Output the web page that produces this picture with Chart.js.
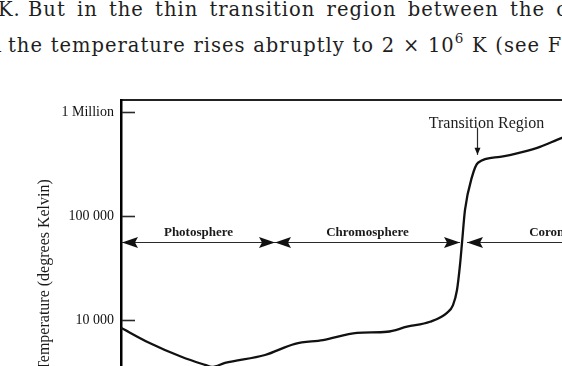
<!DOCTYPE html>
<html>
<head>
<meta charset="utf-8">
<script src="https://cdn.jsdelivr.net/npm/chart.js@4"></script>
<style>
  html, body { margin: 0; padding: 0; background: #fff; overflow: hidden; width: 562px; height: 366px; }
  .txt { position: absolute; white-space: nowrap; font-family: "DejaVu Serif", serif; font-size: 19.5px; line-height: 20px; letter-spacing: 1px; color: #1e1e1e; }
  .txt sup { font-size: 13.5px; line-height: 0; vertical-align: 9px; }
  #l1a { left: -2px; top: 0; }
  #l1b { left: 28px; top: 0; word-spacing: 4px; }
  #l2a { left: -10px; top: 36px; }
  #l2b { left: 8px; top: 36px; word-spacing: 0.5px; }
  #fig { position: absolute; left: 0; top: 0; }
</style>
</head>
<body>
<div class="txt" id="l1a">K.</div>
<div class="txt" id="l1b">But in the thin transition region between the chromosphere</div>
<div class="txt" id="l2a">a</div>
<div class="txt" id="l2b">the temperature rises abruptly to 2 &times; 10<sup>6</sup> K (see Figure</div>
<canvas id="fig" width="600" height="450"></canvas>
<script>
// temperature profile (x = position across the plot, arbitrary units)
const heights = [0, 27, 61, 84, 91, 104, 144, 174, 202, 236, 266, 286, 309, 326, 332, 336, 339, 341, 344, 351, 357, 379, 402, 419, 441, 479];
const temps = [8400, 6100, 4400, 3700, 3530, 3860, 4600, 5900, 6400, 7500, 7700, 8600, 9600, 11700, 13900, 19400, 33800, 55000, 114000, 237000, 324000, 369000, 412000, 460000, 562000, 730000];

const tickValues = [1e4, 1e5, 1e6];
const tickLabels = ['10 000', '100 000', '1 Million'];
const yMin = 562;
const yMax = 1.3e6;

const regions = ['Photosphere', 'Chromosphere', 'Corona'];
const regionStart = [1, 154, 346];
const regionEnd = [154, 339, 512];
const bandLevel = 56000;

const transitionLabel = 'Transition Region';
const transitionX = 356;
const transitionTip = 386000;

function arrowHead(ctx, x, y, dir) {
  ctx.beginPath();
  ctx.moveTo(x, y);
  ctx.lineTo(x + dir * 16, y - 5.5);
  ctx.lineTo(x + dir * 13, y);
  ctx.lineTo(x + dir * 16, y + 5.5);
  ctx.closePath();
  ctx.fill();
}

const annotations = {
  id: 'annotations',
  afterDatasetsDraw(chart) {
    const { ctx, chartArea: a, scales: { x, y } } = chart;
    ctx.save();
    ctx.strokeStyle = '#2a2a2a';
    ctx.fillStyle = '#111';

    // short tick marks inside the frame
    ctx.lineWidth = 1.6;
    tickValues.forEach(v => {
      const py = Math.round(y.getPixelForValue(v)) + 0.5;
      ctx.beginPath();
      ctx.moveTo(a.left + 1, py);
      ctx.lineTo(a.left + 14, py);
      ctx.stroke();
    });

    // region arrows
    const ly = Math.round(y.getPixelForValue(bandLevel)) + 0.5;
    ctx.font = 'bold 13px "Liberation Serif"';
    ctx.textAlign = 'center';
    ctx.textBaseline = 'alphabetic';
    regions.forEach((name, i) => {
      const x0 = x.getPixelForValue(regionStart[i]);
      const x1 = x.getPixelForValue(regionEnd[i]);
      ctx.lineWidth = 1.2;
      ctx.beginPath();
      ctx.moveTo(x0, ly);
      ctx.lineTo(x1, ly);
      ctx.stroke();
      arrowHead(ctx, x0, ly, 1);
      arrowHead(ctx, x1, ly, -1);
      ctx.fillStyle = '#1a1a1a';
      ctx.fillText(name, (x0 + x1) / 2, ly - 7);
      ctx.fillStyle = '#111';
    });

    // transition region pointer
    const tx = Math.round(x.getPixelForValue(transitionX)) + 0.5;
    const ty = y.getPixelForValue(transitionTip);
    ctx.lineWidth = 1.2;
    ctx.beginPath();
    ctx.moveTo(tx, ty - 27);
    ctx.lineTo(tx, ty);
    ctx.stroke();
    ctx.beginPath();
    ctx.moveTo(tx, ty);
    ctx.lineTo(tx - 3, ty - 7);
    ctx.lineTo(tx + 3, ty - 7);
    ctx.closePath();
    ctx.fill();
    ctx.font = '16px "Liberation Serif"';
    ctx.fillStyle = '#1e1e1e';
    ctx.fillText(transitionLabel, tx + 9, ty - 27);
    ctx.restore();
  }
};

new Chart(document.getElementById('fig'), {
  type: 'line',
  data: {
    datasets: [{
      data: heights.map((h, i) => ({ x: h, y: temps[i] })),
      borderColor: '#111',
      borderWidth: 2.3,
      pointRadius: 0,
      cubicInterpolationMode: 'monotone',
      fill: false
    }]
  },
  options: {
    responsive: false,
    animation: false,
    devicePixelRatio: 1,
    layout: { padding: { top: 100, left: 0, right: 0, bottom: 0 } },
    plugins: { legend: { display: false }, tooltip: { enabled: false } },
    scales: {
      x: {
        type: 'linear',
        position: 'top',
        min: 0,
        max: 479,
        ticks: { display: false },
        grid: { display: false, drawTicks: false },
        border: { display: true, color: '#222', width: 2 },
        afterFit: s => { s.height = 0; s.paddingLeft = 0; s.paddingRight = 0; }
      },
      y: {
        type: 'logarithmic',
        min: yMin,
        max: yMax,
        afterBuildTicks: s => { s.ticks = tickValues.map(v => ({ value: v })); },
        ticks: {
          padding: 7,
          color: '#111',
          font: { family: 'Liberation Serif', size: 14 },
          callback: (v, i) => tickLabels[i]
        },
        grid: { display: false, drawTicks: false },
        border: { display: true, color: '#000', width: 2.5 },
        title: {
          display: true,
          text: 'Temperature (degrees Kelvin)',
          color: '#1a1a1a',
          font: { family: 'Liberation Serif', size: 16 },
          padding: { top: 35, bottom: 0 }
        },
        afterFit: s => { s.width = 121; s.paddingTop = 0; s.paddingBottom = 0; }
      }
    }
  },
  plugins: [annotations]
});
</script>
</body>
</html>
